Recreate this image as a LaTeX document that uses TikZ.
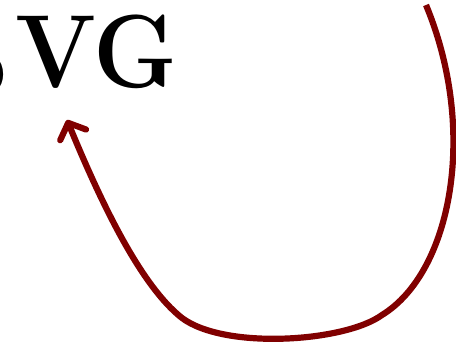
\documentclass[tikz,border=0pt]{standalone}
\usetikzlibrary{arrows.meta}
\definecolor{arrowred}{RGB}{128,0,0}
\tikzset{
  bigtext/.style={inner sep=0pt, font=\fontsize{104}{112}\selectfont\bfseries},
  loopline/.style={draw=arrowred, line width=6.2pt, line cap=butt,
    -{Straight Barb[length=13pt,width=28pt,round]}},
}
\begin{document}
\begin{tikzpicture}[x=1pt,y=-1pt]
\useasboundingbox (0,0) rectangle (456,345);
\node[bigtext, anchor=base west] (vg) at (15,88) {\scalebox{0.915}[1]{VG}};
\node[bigtext, anchor=base east] (pre) at (7,98) {o};
\coordinate (start) at (426,5);
\coordinate (tip) at (67,120);
\draw[loopline] (start) .. controls (478,130) and (452,272) .. (382,315)
  .. controls (345,342) and (225,350) .. (182,318)
  .. controls (140,285) and (100,200) .. (tip);
\end{tikzpicture}
\end{document}
